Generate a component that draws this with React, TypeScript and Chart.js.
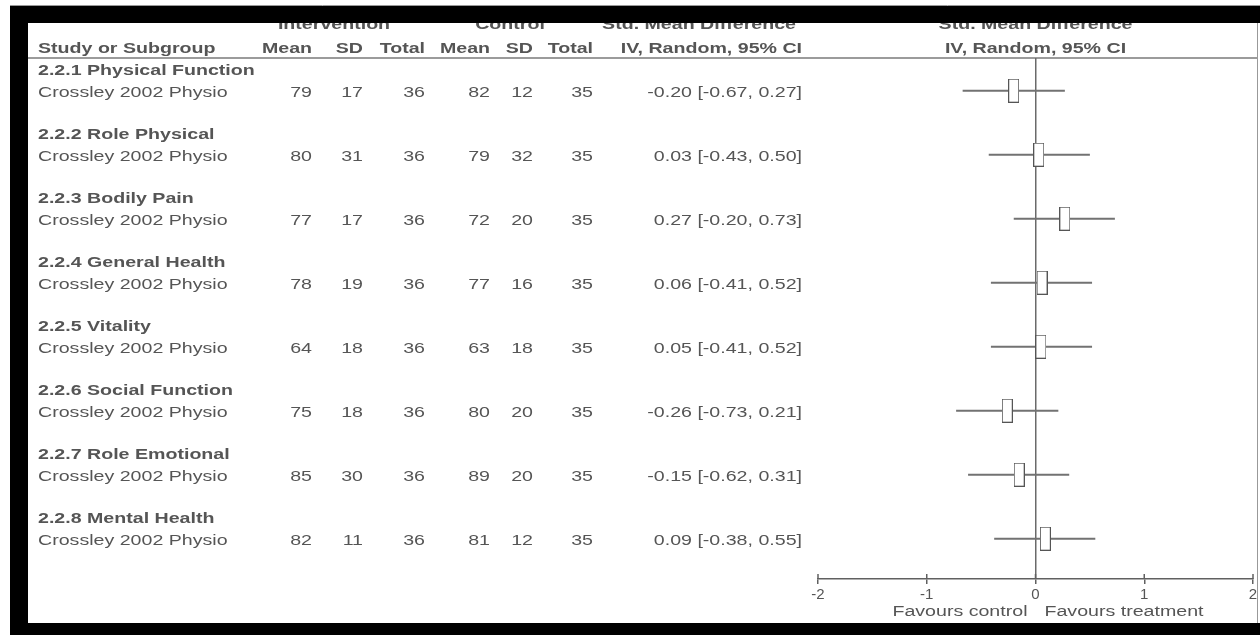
import React, { useEffect, useRef } from 'react';
import { Chart, registerables } from 'chart.js';

Chart.register(...registerables);

// ---------- data ----------
const groupNames = [
  '2.2.1 Physical Function',
  '2.2.2 Role Physical',
  '2.2.3 Bodily Pain',
  '2.2.4 General Health',
  '2.2.5 Vitality',
  '2.2.6 Social Function',
  '2.2.7 Role Emotional',
  '2.2.8 Mental Health',
];
const studyNames = [
  'Crossley 2002 Physio',
  'Crossley 2002 Physio',
  'Crossley 2002 Physio',
  'Crossley 2002 Physio',
  'Crossley 2002 Physio',
  'Crossley 2002 Physio',
  'Crossley 2002 Physio',
  'Crossley 2002 Physio',
];
const intMean = [79, 80, 77, 78, 64, 75, 85, 82];
const intSD = [17, 31, 17, 19, 18, 18, 30, 11];
const intTotal = [36, 36, 36, 36, 36, 36, 36, 36];
const ctlMean = [82, 79, 72, 77, 63, 80, 89, 81];
const ctlSD = [12, 32, 20, 16, 18, 20, 20, 12];
const ctlTotal = [35, 35, 35, 35, 35, 35, 35, 35];
const smd = [-0.2, 0.03, 0.27, 0.06, 0.05, -0.26, -0.15, 0.09];
const ciLow = [-0.67, -0.43, -0.2, -0.41, -0.41, -0.73, -0.62, -0.38];
const ciHigh = [0.27, 0.5, 0.73, 0.52, 0.52, 0.21, 0.31, 0.55];
const xTickValues = [-2, -1, 0, 1, 2];

// ---------- style ----------
const FONT = '"Liberation Sans", Arial, Helvetica, sans-serif';
const TEXT = '#555555';
const SX = 1.4;

function txt(ctx: CanvasRenderingContext2D, s: string, x: number, y: number, align: CanvasTextAlign, bold = false) {
  ctx.save();
  ctx.font = `${bold ? 'bold ' : ''}14px ${FONT}`;
  ctx.fillStyle = TEXT;
  ctx.textBaseline = 'alphabetic';
  ctx.textAlign = align;
  ctx.translate(x, y);
  ctx.scale(SX, 1);
  ctx.fillText(s, 0, 0);
  ctx.restore();
}

const f2 = (v: number) => v.toFixed(2);

const forestPlugin = {
  id: 'forestTable',
  beforeDraw(chart: any) {
    const ctx: CanvasRenderingContext2D = chart.ctx;
    const yS = chart.scales.y;
    const xS = chart.scales.x;
    const top = chart.chartArea.top;
    ctx.save();
    ctx.fillStyle = '#ffffff';
    ctx.fillRect(0, 0, chart.width, chart.height);

    // header rule
    ctx.strokeStyle = '#7a7a7a';
    ctx.lineWidth = 1.5;
    ctx.beginPath();
    ctx.moveTo(28, top);
    ctx.lineTo(1257, top);
    ctx.stroke();

    // header
    const gy = 29;
    txt(ctx, 'Intervention', 334, gy, 'center', true);
    txt(ctx, 'Control', 510, gy, 'center', true);
    txt(ctx, 'Std. Mean Difference', 699, gy, 'center', true);
    txt(ctx, 'Std. Mean Difference', xS.getPixelForValue(0), gy, 'center', true);
    const hy = 52.5;
    txt(ctx, 'Study or Subgroup', 38, hy, 'left', true);
    txt(ctx, 'Mean', 312, hy, 'right', true);
    txt(ctx, 'SD', 363, hy, 'right', true);
    txt(ctx, 'Total', 425, hy, 'right', true);
    txt(ctx, 'Mean', 490, hy, 'right', true);
    txt(ctx, 'SD', 533, hy, 'right', true);
    txt(ctx, 'Total', 593, hy, 'right', true);
    txt(ctx, 'IV, Random, 95% CI', 802, hy, 'right', true);
    txt(ctx, 'IV, Random, 95% CI', xS.getPixelForValue(0), hy, 'center', true);

    // rows
    for (let i = 0; i < studyNames.length; i++) {
      const py = yS.getPixelForValue(i);
      txt(ctx, groupNames[i], 38, py - 15.5, 'left', true);
      const by = py + 6.5;
      txt(ctx, studyNames[i], 38, by, 'left');
      txt(ctx, String(intMean[i]), 312, by, 'right');
      txt(ctx, String(intSD[i]), 363, by, 'right');
      txt(ctx, String(intTotal[i]), 425, by, 'right');
      txt(ctx, String(ctlMean[i]), 490, by, 'right');
      txt(ctx, String(ctlSD[i]), 533, by, 'right');
      txt(ctx, String(ctlTotal[i]), 593, by, 'right');
      txt(ctx, `${f2(smd[i])} [${f2(ciLow[i])}, ${f2(ciHigh[i])}]`, 802, by, 'right');
    }
    ctx.restore();
  },
  afterDraw(chart: any) {
    const ctx: CanvasRenderingContext2D = chart.ctx;
    const xS = chart.scales.x;
    const bottom = chart.chartArea.bottom;
    ctx.save();
    // upper halves of axis ticks
    ctx.strokeStyle = '#606060';
    ctx.lineWidth = 1.5;
    xS.ticks.forEach((t: any) => {
      const px = xS.getPixelForValue(t.value);
      ctx.beginPath();
      ctx.moveTo(px, bottom - 5);
      ctx.lineTo(px, bottom);
      ctx.stroke();
    });
    // favours labels
    const x0 = xS.getPixelForValue(0);
    txt(ctx, 'Favours control', x0 - 8, 616, 'right');
    txt(ctx, 'Favours treatment', x0 + 9, 616, 'left');

    // frame
    ctx.fillStyle = '#000000';
    ctx.fillRect(10, 6, chart.width - 10, 17);
    ctx.fillRect(10, 6, 18, chart.height - 6);
    ctx.fillRect(10, 623, chart.width - 10, chart.height - 623);
    ctx.strokeStyle = '#999999';
    ctx.lineWidth = 1;
    ctx.beginPath();
    ctx.moveTo(10, 5.5);
    ctx.lineTo(chart.width, 5.5);
    ctx.moveTo(1257.5, 23);
    ctx.lineTo(1257.5, 623);
    ctx.stroke();
    ctx.restore();
  },
};

function makeBox(): HTMLCanvasElement {
  const c = document.createElement('canvas');
  c.width = 11;
  c.height = 24;
  const g = c.getContext('2d')!;
  g.fillStyle = '#ffffff';
  g.fillRect(0, 0, 11, 24);
  g.strokeStyle = '#555555';
  g.lineWidth = 1;
  g.strokeRect(0.5, 0.5, 10, 23);
  return c;
}

export default function App() {
  const ref = useRef<HTMLCanvasElement | null>(null);

  useEffect(() => {
    if (!ref.current) return;
    const box = makeBox();
    const whiskers = smd.map((_, i) => ({
      data: [
        { x: ciLow[i], y: i },
        { x: ciHigh[i], y: i },
      ],
      showLine: true,
      borderColor: '#727272',
      borderWidth: 2,
      pointRadius: 0,
      order: 2,
    }));
    const boxes = {
      data: smd.map((v, i) => ({ x: v, y: i })),
      pointStyle: box,
      pointRadius: 6,
      order: 0,
    };
    const chart = new Chart(ref.current, {
      type: 'scatter',
      data: { datasets: [boxes as any, ...whiskers] },
      options: {
        responsive: false,
        animation: false,
        events: [],
        layout: { padding: { left: 818, right: 7, top: 58, bottom: 0 } },
        plugins: { legend: { display: false }, tooltip: { enabled: false } },
        scales: {
          x: {
            type: 'linear',
            min: -2,
            max: 2,
            afterBuildTicks: (s: any) => {
              s.ticks = xTickValues.map((v) => ({ value: v }));
            },
            afterFit: (s: any) => {
              s.height = 56;
            },
            ticks: {
              color: TEXT,
              font: { size: 15, family: FONT },
              padding: 2,
              maxRotation: 0,
              autoSkip: false,
            },
            grid: {
              color: (c: any) => (c.tick && c.tick.value === 0 ? '#6a6a6a' : 'rgba(0,0,0,0)'),
              lineWidth: 1.5,
              drawTicks: true,
              tickLength: 5,
              tickColor: '#606060',
              tickWidth: 1.5,
            },
            border: { display: true, color: '#606060', width: 1.5 },
          },
          y: {
            type: 'linear',
            display: false,
            reverse: true,
            min: -0.51,
            max: 7.63,
          },
        },
      } as any,
      plugins: [forestPlugin],
    });
    return () => chart.destroy();
  }, []);

  return (
    <div style={{ position: 'fixed', left: 0, top: 0, width: 1260, height: 635, background: '#fff' }}>
      <canvas ref={ref} width={1260} height={635} style={{ display: 'block', width: 1260, height: 635 }} />
    </div>
  );
}
